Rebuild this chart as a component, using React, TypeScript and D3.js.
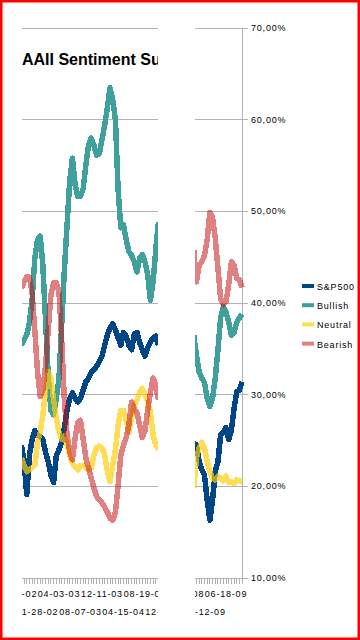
import React from "react";
import * as d3 from "d3";

// ---- data ----
const title = "AAII Sentiment Survey";
const seriesNames = ["S&P500", "Bullish", "Neutral", "Bearish"];
const yTicks = [10, 20, 30, 40, 50, 60, 70];

// left segment: category index of first value = 2
const leftStart = 2;
const leftLabels = ["07-25-02", "11-28-02", "04-03-03", "08-07-03", "12-11-03", "04-15-04", "08-19-04", "12-23-04"];
const leftSP500 = [24.5,22.7,19.1,23.4,25.1,26.1,25.6,25.4,25.1,23.7,22.7,21.2,20.4,23.4,24.0,24.8,26.4,28.3,29.6,30.2,29.6,29.2,29.6,30.5,31.4,31.8,32.4,32.7,33.1,33.6,34.2,35.4,36.5,37.3,37.7,37.1,36.2,35.4,36.8,36.4,35.4,34.9,36.6,36.8,35.7,34.9,34.2,35.1,35.7,36.2,36.4,35.4];
const leftBullish = [35.4,36.0,36.5,37.9,40.3,44.9,46.9,47.3,44.1,38.1,32.1,28.3,27.8,29.6,31.8,37.6,43.6,48.5,53.4,55.8,52.9,51.6,51.6,52.5,55.1,57.2,58.0,57.2,56.1,56.3,57.8,59.4,61.3,63.5,62.1,60.0,52.3,48.2,48.5,46.9,45.6,45.2,44.5,43.4,44.9,45.3,44.5,43.1,40.3,42.3,45.8,48.8];
const leftNeutral = [23.1,22.3,21.6,21.8,22.0,22.3,24.7,25.9,27.8,30.5,32.5,31.8,29.4,27.5,25.9,25.1,25.5,24.5,23.3,22.5,22.1,21.8,22.3,22.3,22.0,21.8,22.0,23.4,24.2,24.4,24.2,23.4,21.6,20.5,22.3,24.0,26.7,28.3,28.3,27.2,25.9,27.5,28.9,29.4,30.3,30.7,30.0,29.2,28.1,25.6,24.5,24.0];
const leftBearish = [41.6,42.3,42.9,42.8,41.1,37.0,32.5,29.8,30.5,33.2,37.1,40.9,42.2,42.2,41.2,36.0,29.4,25.6,23.7,22.9,25.3,27.0,27.2,25.1,23.1,22.0,20.9,19.8,18.9,18.5,18.2,17.7,17.2,16.5,16.3,17.2,20.1,23.4,24.5,25.3,26.7,29.2,28.5,28.0,26.7,25.3,26.1,28.3,30.2,31.8,31.1,29.4];

// right segment: category index of first value = 4
const rightStart = 4;
const rightLabels = ["10-09-08", "02-12-09", "06-18-09"];
const rightSP500 = [24.7,24.5,22.7,21.8,21.2,18.5,16.3,18.5,21.6,22.7,25.6,25.9,26.4,25.1,26.1,28.5,30.3,30.5,31.4];
const rightBullish = [36.5,34.3,32.5,31.8,31.3,29.6,28.7,29.6,31.8,34.9,38.4,39.6,39.0,37.9,36.5,36.8,37.9,38.4,38.8];
const rightNeutral = [19.8,23.1,24.2,24.8,24.2,22.7,21.6,20.9,20.7,21.1,20.9,20.6,21.1,20.4,20.5,20.3,20.7,20.6,20.5];
const rightBearish = [45.8,42.3,44.1,44.5,45.2,46.9,49.9,49.3,47.1,43.8,40.5,39.8,40.1,42.0,44.5,44.1,42.7,42.5,41.7];

const colors = ["#004586", "#3fa09d", "rgb(255,206,9)", "rgb(198,20,20)"];
const opacities = [1, 1, 0.69, 0.54];

const FONT = "'Liberation Sans', Arial, sans-serif";

export default function App() {
  const W = 360, H = 640;
  const y = d3.scaleLinear().domain([10, 70]).range([578, 28]);
  const xL = d3.scaleLinear().domain([0, 56]).range([16, 166.5]);
  const xR = d3.scaleLinear().domain([0, 16]).range([183, 226]);

  const leftSeries = [leftSP500, leftBullish, leftNeutral, leftBearish];
  const rightSeries = [rightSP500, rightBullish, rightNeutral, rightBearish];

  const mkLine = (x: d3.ScaleLinear<number, number>, start: number) =>
    d3.line<number>().x((_, i) => x(i + start)).y((d) => y(d));

  const lineL = mkLine(xL, leftStart);
  const lineR = mkLine(xR, rightStart);

  const leftTickIdx = d3.range(0, 60);
  const rightTickIdx = d3.range(0, 23);
  const gridColor = "#b3b3b3";
  const textStyle = { fontFamily: FONT, fontSize: 9, letterSpacing: 0.8 } as React.CSSProperties;

  return (
    <div style={{ position: "absolute", left: 0, top: 0 }}>
      <svg width={W} height={H} style={{ display: "block", background: "#fff" }}>
        <defs>
          <clipPath id="panels">
            <rect x={22} y={0} width={136} height={H} />
            <rect x={195} y={0} width={165} height={H} />
          </clipPath>
        </defs>
        <rect x={0} y={0} width={W} height={H} fill="#fff" />
        <g clipPath="url(#panels)">
          <text x={22} y={65} style={{ fontFamily: FONT, fontSize: 16, fontWeight: "bold" }} fill="#000">
            {title}
          </text>
          {yTicks.map((t) => (
            <line key={"g" + t} x1={22} x2={242} y1={y(t)} y2={y(t)} stroke={gridColor} strokeWidth={1} shapeRendering="crispEdges" />
          ))}
          {/* x axis ticks */}
          {leftTickIdx.map((i) => (
            <line key={"tl" + i} x1={xL(i)} x2={xL(i)} y1={578} y2={584} stroke={gridColor} strokeWidth={1} shapeRendering="crispEdges" />
          ))}
          {rightTickIdx.map((i) => (
            <line key={"tr" + i} x1={xR(i)} x2={xR(i)} y1={578} y2={584} stroke={gridColor} strokeWidth={1} shapeRendering="crispEdges" />
          ))}
          {/* y axis */}
          <line x1={242} x2={242} y1={y(70)} y2={y(10)} stroke={gridColor} strokeWidth={1} shapeRendering="crispEdges" />
          {yTicks.map((t) => (
            <g key={"yt" + t}>
              <line x1={242} x2={248} y1={y(t)} y2={y(t)} stroke={gridColor} strokeWidth={1} shapeRendering="crispEdges" />
              <text x={251} y={y(t) + 3} style={textStyle} fill="#000">
                {t.toFixed(2).replace(".", ",") + "%"}
              </text>
            </g>
          ))}
          {/* series */}
          {leftSeries.map((s, k) => (
            <path key={"l" + k} d={lineL(s) || ""} fill="none" stroke={colors[k]} strokeOpacity={opacities[k]} strokeWidth={5.5} strokeLinejoin="round" shapeRendering="crispEdges" />
          ))}
          {rightSeries.map((s, k) => (
            <path key={"r" + k} d={lineR(s) || ""} fill="none" stroke={colors[k]} strokeOpacity={opacities[k]} strokeWidth={5.5} strokeLinejoin="round" shapeRendering="crispEdges" />
          ))}
          {/* x labels */}
          {leftLabels.map((lab, i) => (
            <text key={"xl" + i} x={xL(i * 8)} y={(i % 2 === 0) ? 597 : 615} textAnchor="middle" style={textStyle} fill="#000">
              {lab}
            </text>
          ))}
          {rightLabels.map((lab, i) => (
            <text key={"xr" + i} x={xR(i * 8)} y={(i % 2 === 0) ? 597 : 615} textAnchor="middle" style={textStyle} fill="#000">
              {lab}
            </text>
          ))}
          {/* legend */}
          {seriesNames.map((n, k) => (
            <g key={"lg" + k}>
              <rect x={302} y={284 + k * 19.2} width={12} height={4} fill={colors[k]} fillOpacity={opacities[k]} />
              <text x={317} y={290 + k * 19.2} style={textStyle} fill="#000">{n}</text>
            </g>
          ))}
        </g>
        <rect x={0} y={0} width={W} height={H} fill="none" stroke="#ff0000" strokeWidth={5} />
      </svg>
    </div>
  );
}
